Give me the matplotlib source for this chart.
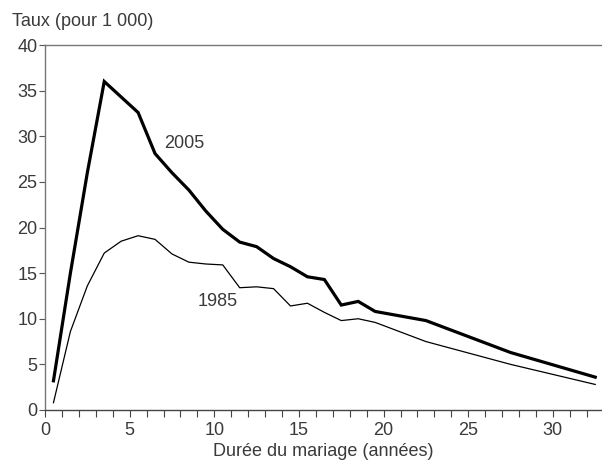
import matplotlib
matplotlib.use("Agg")
import matplotlib.pyplot as plt
from matplotlib.ticker import MultipleLocator

plt.rcParams['font.family'] = ['Liberation Sans', 'DejaVu Sans']

# Data
x_2005 = [0.5, 1.5, 2.5, 3.5, 4.5, 5.5, 6.5, 7.5, 8.5, 9.5, 10.5, 11.5, 12.5, 13.5,
          14.5, 15.5, 16.5, 17.5, 18.5, 19.5, 22.5, 27.5, 32.5]
y_2005 = [3.2, 15.0, 26.0, 36.0, 34.3, 32.6, 28.1, 26.0, 24.1, 21.8, 19.8, 18.4, 17.9, 16.6,
          15.7, 14.6, 14.3, 11.5, 11.9, 10.8, 9.8, 6.3, 3.6]
x_1985 = [0.5, 1.5, 2.5, 3.5, 4.5, 5.5, 6.5, 7.5, 8.5, 9.5, 10.5, 11.5, 12.5, 13.5,
          14.5, 15.5, 16.5, 17.5, 18.5, 19.5, 22.5, 27.5, 32.5]
y_1985 = [0.8, 8.6, 13.6, 17.2, 18.5, 19.1, 18.7, 17.1, 16.2, 16.0, 15.9, 13.4, 13.5, 13.3,
          11.4, 11.7, 10.7, 9.8, 10.0, 9.6, 7.5, 5.0, 2.8]
x_ticks = [0, 5, 10, 15, 20, 25, 30]
y_ticks = [0, 5, 10, 15, 20, 25, 30, 35, 40]

TXT = '#3a3a3a'
fig = plt.figure(figsize=(6.02, 4.62), dpi=100)
ax = fig.add_axes([45/602, 1-410/462, 1-45/602, (410-45)/462])

ax.plot(x_2005, y_2005, color='black', lw=2.3, solid_joinstyle='miter')
ax.plot(x_1985, y_1985, color='black', lw=0.9)

ax.set_xlim(0, 32.9)
ax.set_ylim(0, 40)
ax.set_xticks(x_ticks)
ax.set_yticks(y_ticks)
ax.xaxis.set_minor_locator(MultipleLocator(1))
ax.tick_params(axis='x', which='both', direction='out', length=5, width=0.8,
               color='#444444', labelsize=13, labelcolor=TXT, pad=3.5)
ax.tick_params(axis='y', which='major', direction='out', length=4, width=0.8,
               color='#555555', labelsize=13, labelcolor=TXT, pad=1.5)

ax.spines['right'].set_visible(False)
ax.spines['top'].set_color('#777777')
ax.spines['top'].set_linewidth(1.0)
ax.spines['left'].set_color('#777777')
ax.spines['left'].set_linewidth(1.0)
ax.spines['bottom'].set_color('#444444')
ax.spines['bottom'].set_linewidth(1.0)

ax.text(8.2, 29.2, '2005', fontsize=13, color=TXT, ha='center', va='center')
ax.text(10.2, 11.9, '1985', fontsize=13, color=TXT, ha='center', va='center')

fig.text(12/602, 1-22/462, 'Taux (pour 1 000)', fontsize=13, color=TXT, ha='left', va='center')
ax.set_xlabel('Durée du mariage (années)', fontsize=13, color=TXT, labelpad=3)

fig.savefig('out.png', dpi=100)
